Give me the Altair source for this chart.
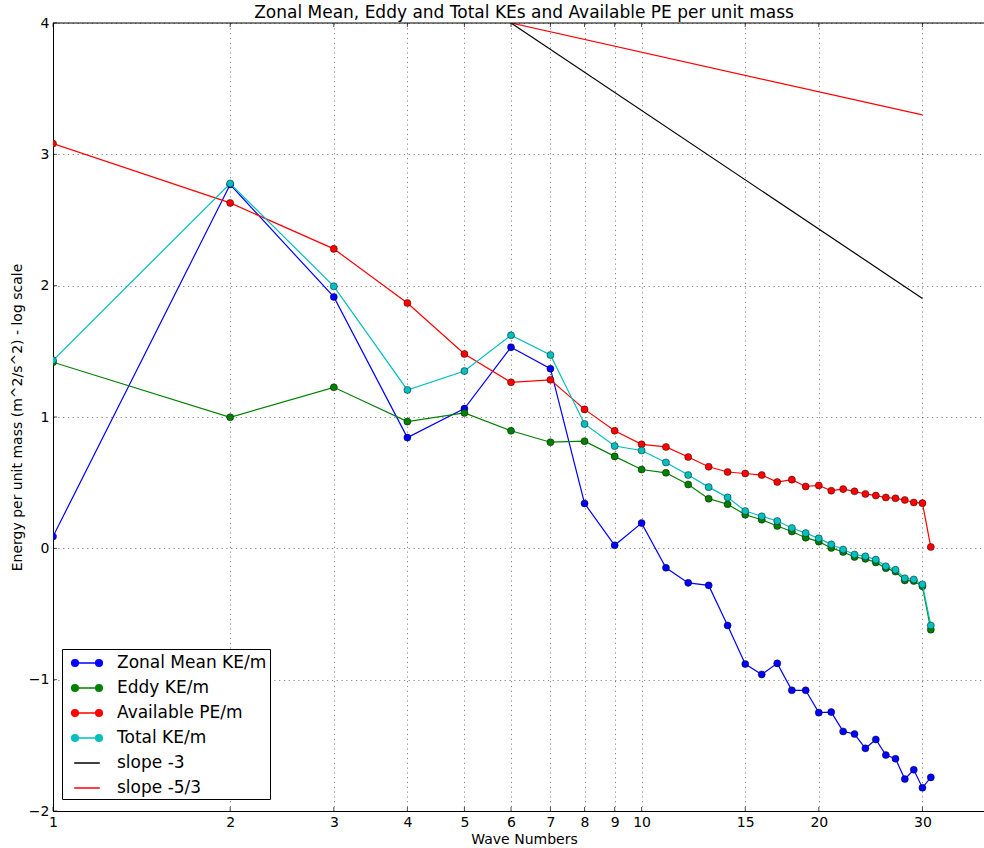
import altair as alt
import pandas as pd

# Wave numbers and log10 energies per unit mass (m^2/s^2)
wave = list(range(1, 32))
zonal_ke = [0.090, 2.770, 1.914, 0.843, 1.064, 1.531, 1.368, 0.342, 0.023, 0.192,
            -0.148, -0.263, -0.282, -0.587, -0.881, -0.960, -0.876, -1.081, -1.081, -1.251,
            -1.247, -1.394, -1.414, -1.523, -1.455, -1.574, -1.602, -1.757, -1.686, -1.823,
            -1.744]
eddy_ke = [1.417, 0.998, 1.226, 0.965, 1.031, 0.895, 0.808, 0.816, 0.700, 0.600,
           0.575, 0.486, 0.378, 0.336, 0.256, 0.218, 0.170, 0.128, 0.081, 0.051,
           0.003, -0.028, -0.066, -0.080, -0.107, -0.151, -0.177, -0.244, -0.249, -0.289,
           -0.619]
avail_pe = [3.082, 2.630, 2.280, 1.868, 1.480, 1.264, 1.283, 1.058, 0.895, 0.792,
            0.772, 0.695, 0.621, 0.581, 0.570, 0.558, 0.505, 0.523, 0.471, 0.479,
            0.439, 0.451, 0.434, 0.414, 0.402, 0.387, 0.381, 0.368, 0.349, 0.344,
            0.010]
total_ke = [1.432, 2.778, 1.995, 1.206, 1.350, 1.622, 1.472, 0.947, 0.779, 0.745,
            0.654, 0.558, 0.466, 0.388, 0.284, 0.244, 0.208, 0.155, 0.116, 0.076,
            0.030, -0.009, -0.047, -0.061, -0.086, -0.137, -0.163, -0.228, -0.237, -0.275,
            -0.587]

# Reference slope lines
slope_k = [6, 30]
slope_m3 = [4.0, 1.903]
slope_m53 = [4.0, 3.30]

x_ticks = [1, 2, 3, 4, 5, 6, 7, 8, 9, 10, 15, 20, 30]
y_ticks = [-2, -1, 0, 1, 2, 3, 4]

series_names = ["Zonal Mean KE/m", "Eddy KE/m", "Available PE/m", "Total KE/m",
                "slope -3", "slope -5/3"]
series_colors = ["#0000ff", "#008000", "#ff0000", "#00bfbf", "#000000", "#ff0000"]

# legend glyphs: line with a marker at each end, or a plain line
marker_glyph = ("M-1.2,0L1.2,0"
                "M-1.53,0A0.33,0.33,0,1,0,-0.87,0A0.33,0.33,0,1,0,-1.53,0"
                "M0.87,0A0.33,0.33,0,1,0,1.53,0A0.33,0.33,0,1,0,0.87,0")
line_glyph = "M-1.28,0L1.28,0"
legend_shapes = [marker_glyph] * 4 + [line_glyph] * 2

FONT = "DejaVu Sans"

rows = []
for name, vals in zip(series_names[:4], [zonal_ke, eddy_ke, avail_pe, total_ke]):
    for k, v in zip(wave, vals):
        rows.append({"k": k, "energy": v, "series": name})
spectra = pd.DataFrame(rows)

slopes = pd.DataFrame({
    "k": slope_k + slope_k,
    "energy": slope_m3 + slope_m53,
    "series": [series_names[4]] * 2 + [series_names[5]] * 2,
})

xscale = alt.Scale(type="log", domain=[1, 38.17], nice=False)
yscale = alt.Scale(domain=[-2, 4], nice=False, zero=False)

grid_style = dict(grid=True, gridColor="#000000", gridOpacity=0.6, gridWidth=0.8,
                  gridDash=[1.2, 3.6], domain=True, domainColor="#000000", domainWidth=1,
                  ticks=False, tickSize=0, labelFont=FONT, labelFontSize=14,
                  labelColor="#000000", titleFont=FONT, titleFontWeight="normal",
                  titleColor="#000000", titleFontSize=14)

xaxis = alt.Axis(values=x_ticks, format="d", labelPadding=4, labelFlush=False,
                 labelOverlap=False, labelBound=False, title="Wave Numbers",
                 titleX=471, titleY=32, titleAlign="center",
                 titleBaseline="alphabetic", **grid_style)
yaxis = alt.Axis(values=y_ticks, format="d", labelPadding=4, labelOverlap=False,
                 title="Energy per unit mass (m^2/s^2) - log scale",
                 titleX=-36, titleY=394, titleAngle=270, titleAlign="center",
                 titleBaseline="middle", **grid_style)


def xenc(field):
    return alt.X(field, scale=xscale, axis=xaxis)


def yenc(field):
    return alt.Y(field, scale=yscale, axis=yaxis)


X = xenc("k:Q")
Y = yenc("energy:Q")

layers = []
for name, color in zip(series_names[:4], series_colors[:4]):
    base = alt.Chart(spectra).transform_filter(alt.datum.series == name)
    layers.append(base.mark_line(color=color, strokeWidth=1.2, clip=True).encode(x=X, y=Y))
    layers.append(base.mark_circle(size=50, fill=color, stroke="#000000", strokeWidth=0.6,
                                   strokeOpacity=0.75, opacity=1, clip=True).encode(x=X, y=Y))

for name, color in zip(series_names[4:], series_colors[4:]):
    layers.append(alt.Chart(slopes).transform_filter(alt.datum.series == name)
                  .mark_line(color=color, strokeWidth=1.2, clip=True).encode(x=X, y=Y))

# axes frame top edge and inward tick marks
xt_bottom = pd.DataFrame({"tick": x_ticks, "edge": [y_ticks[0]] * len(x_ticks)})
xt_top = pd.DataFrame({"tick": x_ticks, "edge": [y_ticks[-1]] * len(x_ticks)})
yt_left = pd.DataFrame({"tick": y_ticks, "edge": [x_ticks[0]] * len(y_ticks)})
top = pd.DataFrame({"top": [y_ticks[-1]]})

layers.append(alt.Chart(top).mark_rule(color="#000000", strokeWidth=1).encode(
    y=yenc("top:Q")))
layers.append(alt.Chart(xt_bottom).mark_tick(orient="vertical", size=4, thickness=1,
                                             color="#000000", yOffset=-2).encode(
    x=xenc("tick:Q"), y=yenc("edge:Q")))
layers.append(alt.Chart(xt_top).mark_tick(orient="vertical", size=4, thickness=1,
                                          color="#000000", yOffset=2).encode(
    x=xenc("tick:Q"), y=yenc("edge:Q")))
layers.append(alt.Chart(yt_left).mark_tick(orient="horizontal", size=4, thickness=1,
                                           color="#000000", xOffset=2).encode(
    y=yenc("tick:Q"), x=xenc("edge:Q")))

legend_def = alt.Legend(title=None, orient="none", legendX=9, legendY=626, padding=3,
                        rowPadding=6, symbolSize=400, symbolStrokeWidth=1.5,
                        symbolOffset=11, labelOffset=19, labelFont=FONT,
                        labelFontSize=17, labelColor="#000000", strokeColor="#000000",
                        fillColor="#ffffff", cornerRadius=0, labelLimit=0)
legend_layer = alt.Chart(spectra).transform_filter("false").mark_point(
    filled=True, opacity=1).encode(
    fill=alt.Fill("series:N", scale=alt.Scale(domain=series_names, range=series_colors),
                  legend=legend_def),
    stroke=alt.Stroke("series:N", scale=alt.Scale(domain=series_names, range=series_colors),
                      legend=legend_def),
    shape=alt.Shape("series:N", scale=alt.Scale(domain=series_names, range=legend_shapes),
                    legend=legend_def),
)
layers.append(legend_layer)

chart = alt.layer(*layers).properties(
    width=931,
    height=788,
    title=alt.TitleParams(
        text="Zonal Mean, Eddy and Total KEs and Available PE per unit mass",
        font=FONT, fontSize=17, fontWeight="normal", color="#000000",
        anchor="middle", frame="group", offset=0, dx=5.5, dy=6),
    autosize=alt.AutoSizeParams(type="none"),
    padding={"left": 53, "top": 23, "right": 0, "bottom": 37},
    background="#ffffff",
).configure_view(stroke=None)

chart.save("out.html", embed_options={"renderer": "svg", "actions": False})
